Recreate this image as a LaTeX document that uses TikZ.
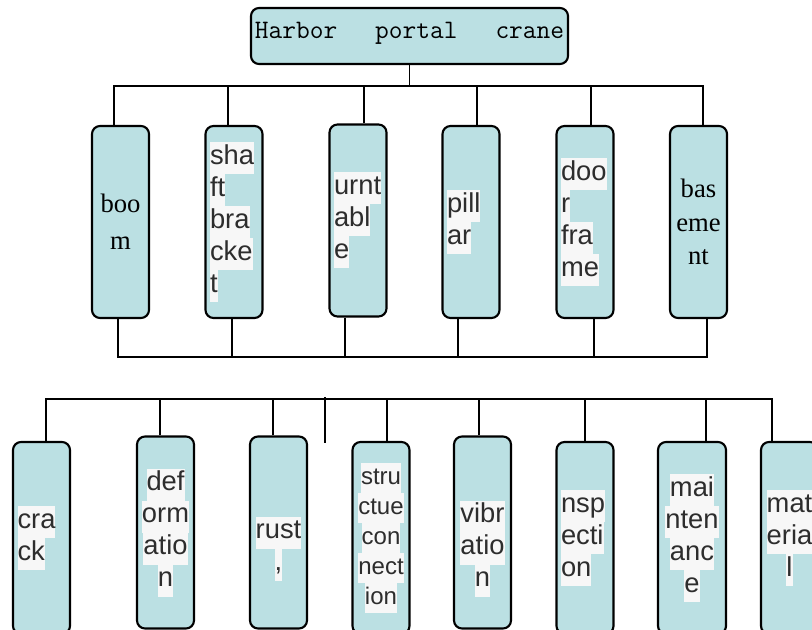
\documentclass[tikz,border=0pt]{standalone}
\usepackage{fontspec}
\setmainfont{Liberation Sans}
\newfontfamily\serifrm{Liberation Serif}
\definecolor{boxcyan}{RGB}{187,224,227}
\definecolor{hlgray}{RGB}{247,247,247}
\definecolor{inkgray}{RGB}{45,45,45}
\newcommand\hl[1]{{\fboxsep=0pt\colorbox{hlgray}{\strut#1}}}
\tikzset{
	cbox/.style={draw, line width=1.6pt, rounded corners=6pt, fill=boxcyan, text=inkgray, minimum width=42.75pt, minimum height=144pt, inner sep=1pt, align=center, font=\fontsize{20.5}{24}\selectfont},
	lbox/.style={cbox, align=left, text width=36pt},
	sbox/.style={cbox, text=black},
	wire/.style={line width=1.3pt},
}
\begin{document}
\begin{tikzpicture}[x=0.75pt, y=-0.75pt]
	\useasboundingbox (0,0) rectangle (812,630);
	\clip (0,0) rectangle (812,630);
	
	\node[sbox, minimum width=237.75pt, minimum height=42pt, inner sep=0pt, text height=12.2pt, text depth=8pt, font=\ttfamily\fontsize{20}{24}\selectfont] (crane) at (409.5,36) {\makebox[232pt][s]{Harbor\hfill portal\hfill crane}};
	
	% first row
	\node[sbox, font=\serifrm\fontsize{20}{28}\selectfont] (boom) at (120.5,222) {boo\\m};
	\node[lbox] (shaft) at (234,222) {\hl{sha}\\\hl{ft}\\\hl{bra}\\\hl{cke}\\\hl{t}};
	\node[lbox] (turntable) at (358,220.5) {\hl{urnt}\\\hl{abl}\\\hl{e}};
	\node[lbox] (pillar) at (471,222) {\hl{pill}\\\hl{ar}};
	\node[lbox] (doorframe) at (585,222) {\hl{doo}\\\hl{r}\\\hl{fra}\\\hl{me}};
	\node[sbox, font=\serifrm\fontsize{20}{25}\selectfont] (basement) at (698.5,222) {bas\\eme\\nt};
	
	% second row
	\node[lbox] (crack) at (41.5,538) {\hl{cra}\\\hl{ck}};
	\node[cbox] (deform) at (165.5,532.5) {\hl{def}\\\hl{orm}\\\hl{atio}\\\hl{n}};
	\node[cbox] (rust) at (278.5,532.5) {\strut\\\hl{rust}\\\hl{,}};
	\node[cbox, font=\fontsize{18}{22.5}\selectfont] (connection) at (381,538) {\hl{stru}\\\hl{ctue}\\\hl{con}\\\hl{nect}\\\hl{ion}};
	\node[cbox] (vibration) at (482.5,532.5) {\strut\\\hl{vibr}\\\hl{atio}\\\hl{n}};
	\node[lbox] (inspection) at (585,538) {\hl{nsp}\\\hl{ecti}\\\hl{on}};
	\node[cbox, minimum width=51pt] (maintenance) at (692,538) {\hl{mai}\\\hl{nten}\\\hl{anc}\\\hl{e}};
	\node[cbox] (material) at (789.5,538) {\hl{mat}\\\hl{eria}\\\hl{l}};
	
	\coordinate (busT) at (410,86);
	\coordinate (busB) at (410,357);
	\coordinate (busC) at (410,399);
	\coordinate (tick) at (325,397);
	
	\draw[wire] (crane.south) -- (crane.south |- busT);
	\draw[wire] ([xshift=-4.9pt]boom.north) |- (busT);
	\draw[wire] ([xshift=-4.5pt]shaft.north) |- (busT);
	\draw[wire] ([xshift=4.5pt]turntable.north) |- (busT);
	\draw[wire] ([xshift=4.5pt]pillar.north) |- (busT);
	\draw[wire] ([xshift=4.5pt]doorframe.north) |- (busT);
	\draw[wire] ([xshift=3.4pt]basement.north) |- (busT);
	
	\draw[wire] ([xshift=-1.9pt]boom.south) |- (busB);
	\draw[wire] ([xshift=-1.5pt]shaft.south) |- (busB);
	\draw[wire] ([xshift=-9.75pt]turntable.south) |- (busB);
	\draw[wire] ([xshift=-9.75pt]pillar.south) |- (busB);
	\draw[wire] ([xshift=6.75pt]doorframe.south) |- (busB);
	\draw[wire] ([xshift=6.4pt]basement.south) |- (busB);
	
	\draw[wire] ([xshift=3.4pt]crack.north) |- (busC);
	\draw[wire] ([xshift=-4.1pt]deform.north) |- (busC);
	\draw[wire] ([xshift=-4.1pt]rust.north) |- (busC);
	\draw[wire] ([xshift=4.5pt]connection.north) |- (busC);
	\draw[wire] ([xshift=-2.6pt]vibration.north) |- (busC);
	\draw[wire] (inspection.north) |- (busC);
	\draw[wire] ([xshift=10.5pt]maintenance.north) |- (busC);
	\draw[wire] ([xshift=-13.1pt]material.north) |- (busC);
	\draw[wire] (tick) -- ++(0,46);
\end{tikzpicture}
\end{document}
